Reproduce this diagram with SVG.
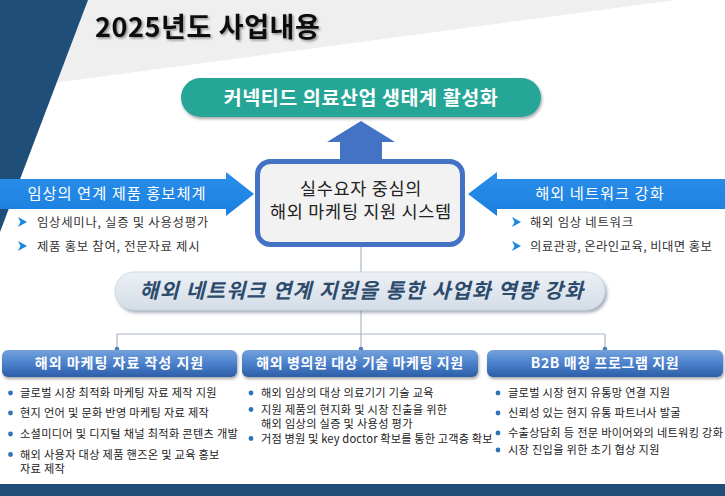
<svg xmlns="http://www.w3.org/2000/svg" width="725" height="496" viewBox="0 0 725 496">
<style>
  text { font-family: "Noto Sans CJK KR", "Noto Sans", "Liberation Sans", sans-serif; }
  .title { font-size: 27px; font-weight: bold; fill: #111; letter-spacing: 0.6px; }
  .goal { font-size: 19.5px; font-weight: bold; fill: #fff; letter-spacing: 0.6px; }
  .center { font-size: 17.5px; fill: #222; letter-spacing: 0.7px; }
  .arrlbl { font-size: 15.3px; fill: #fff; letter-spacing: 1px; }
  .tb { font-size: 12.4px; fill: #333; letter-spacing: 0.7px; }
  .banner { font-size: 20.5px; font-weight: bold; font-style: italic; fill: #2c4a6c; letter-spacing: 1.3px; }
  .hdr { font-size: 14px; font-weight: bold; fill: #fff; letter-spacing: 0.6px; }
  .bl { font-size: 11.2px; fill: #222; letter-spacing: 0.3px; }
  .dot { fill: #2e72b8; }
  .tri { fill: #1e87e6; }
  .conn { stroke: #a9b8c8; stroke-width: 1.2; fill: none; }
  .hbox { fill: url(#hg); filter: url(#sh); }
</style>
<defs>
  <linearGradient id="hg" x1="0" y1="0" x2="0" y2="1">
    <stop offset="0" stop-color="#74a2dc"/>
    <stop offset="0.5" stop-color="#4b80cc"/>
    <stop offset="1" stop-color="#2c5ea7"/>
  </linearGradient>
  <linearGradient id="bg" x1="0" y1="0" x2="0" y2="1">
    <stop offset="0" stop-color="#edf1f6"/>
    <stop offset="1" stop-color="#d3dce6"/>
  </linearGradient>
  <linearGradient id="ag" x1="0" y1="0" x2="0" y2="1">
    <stop offset="0" stop-color="#2a8fea"/>
    <stop offset="1" stop-color="#1a7fdf"/>
  </linearGradient>
  <filter id="sh" x="-10%" y="-30%" width="120%" height="170%">
    <feDropShadow dx="1" dy="2" stdDeviation="1.5" flood-color="#000" flood-opacity="0.35"/>
  </filter>
  <filter id="tsh" x="-10%" y="-30%" width="120%" height="170%">
    <feDropShadow dx="1.5" dy="1.5" stdDeviation="1" flood-color="#000" flood-opacity="0.4"/>
  </filter>
  <filter id="bsh" x="-10%" y="-30%" width="120%" height="170%">
    <feDropShadow dx="2" dy="2.5" stdDeviation="1.5" flood-color="#6d7d90" flood-opacity="0.6"/>
  </filter>
</defs>

<!-- background -->
<rect x="0" y="0" width="725" height="496" fill="#ffffff"/>
<polygon points="0,0 676,0 0,90" fill="#efefef"/>
<polygon points="0,0 88,0 0,232" fill="#1f4e79"/>
<rect x="0" y="484" width="725" height="12" fill="#1f4e79"/>

<g id="title">
  <text class="title" x="95" y="37" filter="url(#tsh)">2025년도 사업내용</text>
</g>

<g id="connectors">
  <line class="conn" x1="361" y1="247" x2="361" y2="334"/>
  <line class="conn" x1="117" y1="334" x2="605" y2="334"/>
  <line class="conn" x1="117" y1="334" x2="117" y2="349"/>
  <line class="conn" x1="361" y1="334" x2="361" y2="349"/>
  <line class="conn" x1="605" y1="334" x2="605" y2="349"/>
  <circle cx="117" cy="349" r="2.3" fill="#4f7fb8"/>
  <circle cx="361" cy="349" r="2.3" fill="#4f7fb8"/>
  <circle cx="605" cy="349" r="2.3" fill="#4f7fb8"/>
  <polygon id="arrow-up" points="361,121 395,142 382,142 382,161 340,161 340,142 327,142" fill="#4472c4"/>
</g>

<g id="goal">
  <rect x="181" y="78" width="360" height="39" rx="19.5" fill="#27a697" filter="url(#sh)"/>
  <text class="goal" x="361" y="105" text-anchor="middle">커넥티드 의료산업 생태계 활성화</text>
</g>

<g id="center">
  <rect x="257.5" y="161.5" width="205" height="83" rx="13" fill="#f2f2f2" stroke="#4472c4" stroke-width="5"/>
  <text class="center" x="361" y="194.5" text-anchor="middle">실수요자 중심의</text>
  <text class="center" x="361" y="217.5" text-anchor="middle">해외 마케팅 지원 시스템</text>
</g>

<g id="left-arrow">
  <polygon points="0,179 226,179 226,172 254,194 226,216 226,209 0,209" fill="url(#ag)"/>
  <text class="arrlbl" x="117" y="199" text-anchor="middle">임상의 연계 제품 홍보체계</text>
  <polygon class="tri" points="18,217 27,222 18,227 20.5,222"/>
  <text class="tb" x="37" y="226.6">임상세미나, 실증 및 사용성평가</text>
  <polygon class="tri" points="18,241 27,246 18,251 20.5,246"/>
  <text class="tb" x="37" y="250.6">제품 홍보 참여, 전문자료 제시</text>
</g>

<g id="right-arrow">
  <polygon points="725,179 497,179 497,172 468,194 497,216 497,209 725,209" fill="url(#ag)"/>
  <text class="arrlbl" x="600" y="199" text-anchor="middle">해외 네트워크 강화</text>
  <polygon class="tri" points="512,217 521,222 512,227 514.5,222"/>
  <text class="tb" x="530" y="226.6">해외 임상 네트워크</text>
  <polygon class="tri" points="512,241 521,246 512,251 514.5,246"/>
  <text class="tb" x="530" y="250.6" style="letter-spacing:0.4px">의료관광, 온라인교육, 비대면 홍보</text>
</g>

<g id="banner">
  <rect x="115" y="272" width="490" height="38" rx="19" fill="url(#bg)" stroke="#c9d3de" stroke-width="0.8" filter="url(#bsh)"/>
  <text class="banner" x="362" y="298" text-anchor="middle">해외 네트워크 연계 지원을 통한 사업화 역량 강화</text>
</g>

<g id="col1">
  <rect class="hbox" x="2" y="350" width="235" height="27" rx="6"/>
  <text class="hdr" x="119.5" y="368" text-anchor="middle" style="letter-spacing:1px">해외 마케팅 자료 작성 지원</text>
  <circle class="dot" cx="10.5" cy="393" r="2.4"/>
  <text class="bl" x="20" y="397">글로벌 시장 최적화 마케팅 자료 제작 지원</text>
  <circle class="dot" cx="10.5" cy="413" r="2.4"/>
  <text class="bl" x="20" y="417">현지 언어 및 문화 반영 마케팅 자료 제작</text>
  <circle class="dot" cx="10.5" cy="434" r="2.4"/>
  <text class="bl" x="20" y="438">소셜미디어 및 디지털 채널 최적화 콘텐츠 개발</text>
  <circle class="dot" cx="10.5" cy="454.5" r="2.4"/>
  <text class="bl" x="20" y="458.5">해외 사용자 대상 제품 핸즈온 및 교육 홍보</text>
  <text class="bl" x="20" y="472.5">자료 제작</text>
</g>

<g id="col2">
  <rect class="hbox" x="242" y="350" width="236" height="27" rx="6"/>
  <text class="hdr" x="360" y="368" text-anchor="middle">해외 병의원 대상 기술 마케팅 지원</text>
  <circle class="dot" cx="251" cy="393" r="2.4"/>
  <text class="bl" x="261" y="397">해외 임상의 대상 의료기기 기술 교육</text>
  <circle class="dot" cx="251" cy="409.5" r="2.4"/>
  <text class="bl" x="261" y="413.5">지원 제품의 현지화 및 시장 진출을 위한</text>
  <text class="bl" x="261" y="427.5">해외 임상의 실증 및 사용성 평가</text>
  <circle class="dot" cx="251" cy="438.5" r="2.4"/>
  <text class="bl" x="261" y="442.5" style="letter-spacing:0.15px">거점 병원 및 key doctor 확보를 통한 고객층 확보</text>
</g>

<g id="col3">
  <rect class="hbox" x="487" y="350" width="236" height="27" rx="6"/>
  <text class="hdr" x="605" y="368" text-anchor="middle">B2B 매칭 프로그램 지원</text>
  <circle class="dot" cx="498" cy="393" r="2.4"/>
  <text class="bl" x="508" y="397">글로벌 시장 현지 유통망 연결 지원</text>
  <circle class="dot" cx="498" cy="413" r="2.4"/>
  <text class="bl" x="508" y="417">신뢰성 있는 현지 유통 파트너사 발굴</text>
  <circle class="dot" cx="498" cy="433" r="2.4"/>
  <text class="bl" x="508" y="437">수출상담회 등 전문 바이어와의 네트워킹 강화</text>
  <circle class="dot" cx="498" cy="450" r="2.4"/>
  <text class="bl" x="508" y="454">시장 진입을 위한 초기 협상 지원</text>
</g>
</svg>
